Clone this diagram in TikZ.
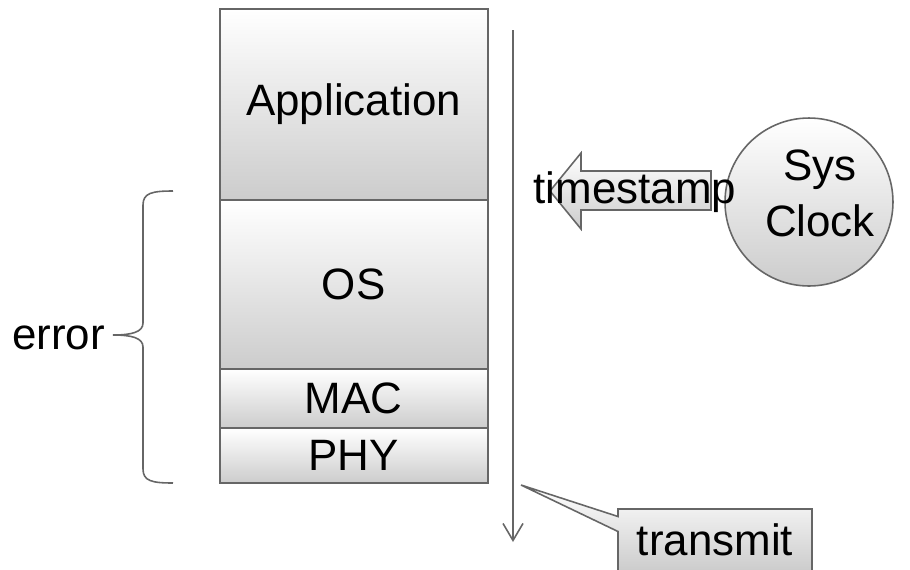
\documentclass[tikz,border=0pt]{standalone}
\usepackage{fontspec}
\setmainfont{Liberation Sans}
\usetikzlibrary{arrows.meta,shapes.callouts}
\tikzset{
  layer/.style = {rectangle, draw=black!60, line width=1.1pt, top color=white, bottom color=gray!40, minimum width=5.36cm, inner sep=0pt, font=\fontsize{25}{30}\selectfont},
  clockface/.style = {circle, draw=black!60, line width=0.9pt, top color=white, bottom color=gray!40, minimum size=3.36cm},
  lbl/.style = {inner sep=0pt, font=\fontsize{25}{32}\selectfont, align=center},
  flow/.style = {draw=black!60, line width=0.9pt, -{Straight Barb[length=0.34cm, width=0.4cm]}},
  note/.style = {rectangle callout, draw=black!60, line width=0.9pt, top color=white, bottom color=gray!40, minimum width=3.88cm, minimum height=1.24cm, callout pointer width=0.3cm, inner sep=0pt, font=\fontsize{25}{30}\selectfont}
}

\begin{document}
\begin{tikzpicture}[x=0.02cm, y=-0.02cm]
        \useasboundingbox (0,0) rectangle (910,569);

        \node [layer, minimum height=3.81cm] (app) at (353.7,104.6) {Application};
        \node [layer, minimum height=3.39cm] (os) at (353.7,284.6) {OS};
        \node [layer, minimum height=1.18cm] (mac) at (353.7,398.8) {MAC};
        \node [layer, minimum height=1.10cm] (phy) at (353.7,455.8) {PHY};

        \coordinate (top) at (513,30);
        \coordinate (bottom) at (513,542);
        \coordinate (sent) at (521,485);
        \draw [flow] (top) -- (bottom);

        \node [clockface] (clockface) at (809,202) {};
        \node [lbl] (clock) at (820,193) {Sys\\Clock};

        \shade [draw=black!60, line width=0.9pt, top color=white, bottom color=gray!40]
            (711,171) -- (581,171) -- (581,153) -- (550,191) -- (581,229) -- (581,210) -- (711,210) -- cycle;
        \node [lbl] (stamp) at (635,192) {timestamp};

        \draw [draw=black!60, line width=0.9pt] (173,191) .. controls (152,191) and (143,193) .. (143,205)
            -- (143,323) .. controls (143,332) and (132,335) .. (113,335)
            .. controls (132,335) and (143,338) .. (143,347)
            -- (143,469) .. controls (143,481) and (152,483) .. (173,483);
        \node [lbl] (error) at (58.5,338) {error};

        \node [note, callout absolute pointer={(sent)}] (transmit) at (715,540) {transmit};
\end{tikzpicture}
\end{document}
